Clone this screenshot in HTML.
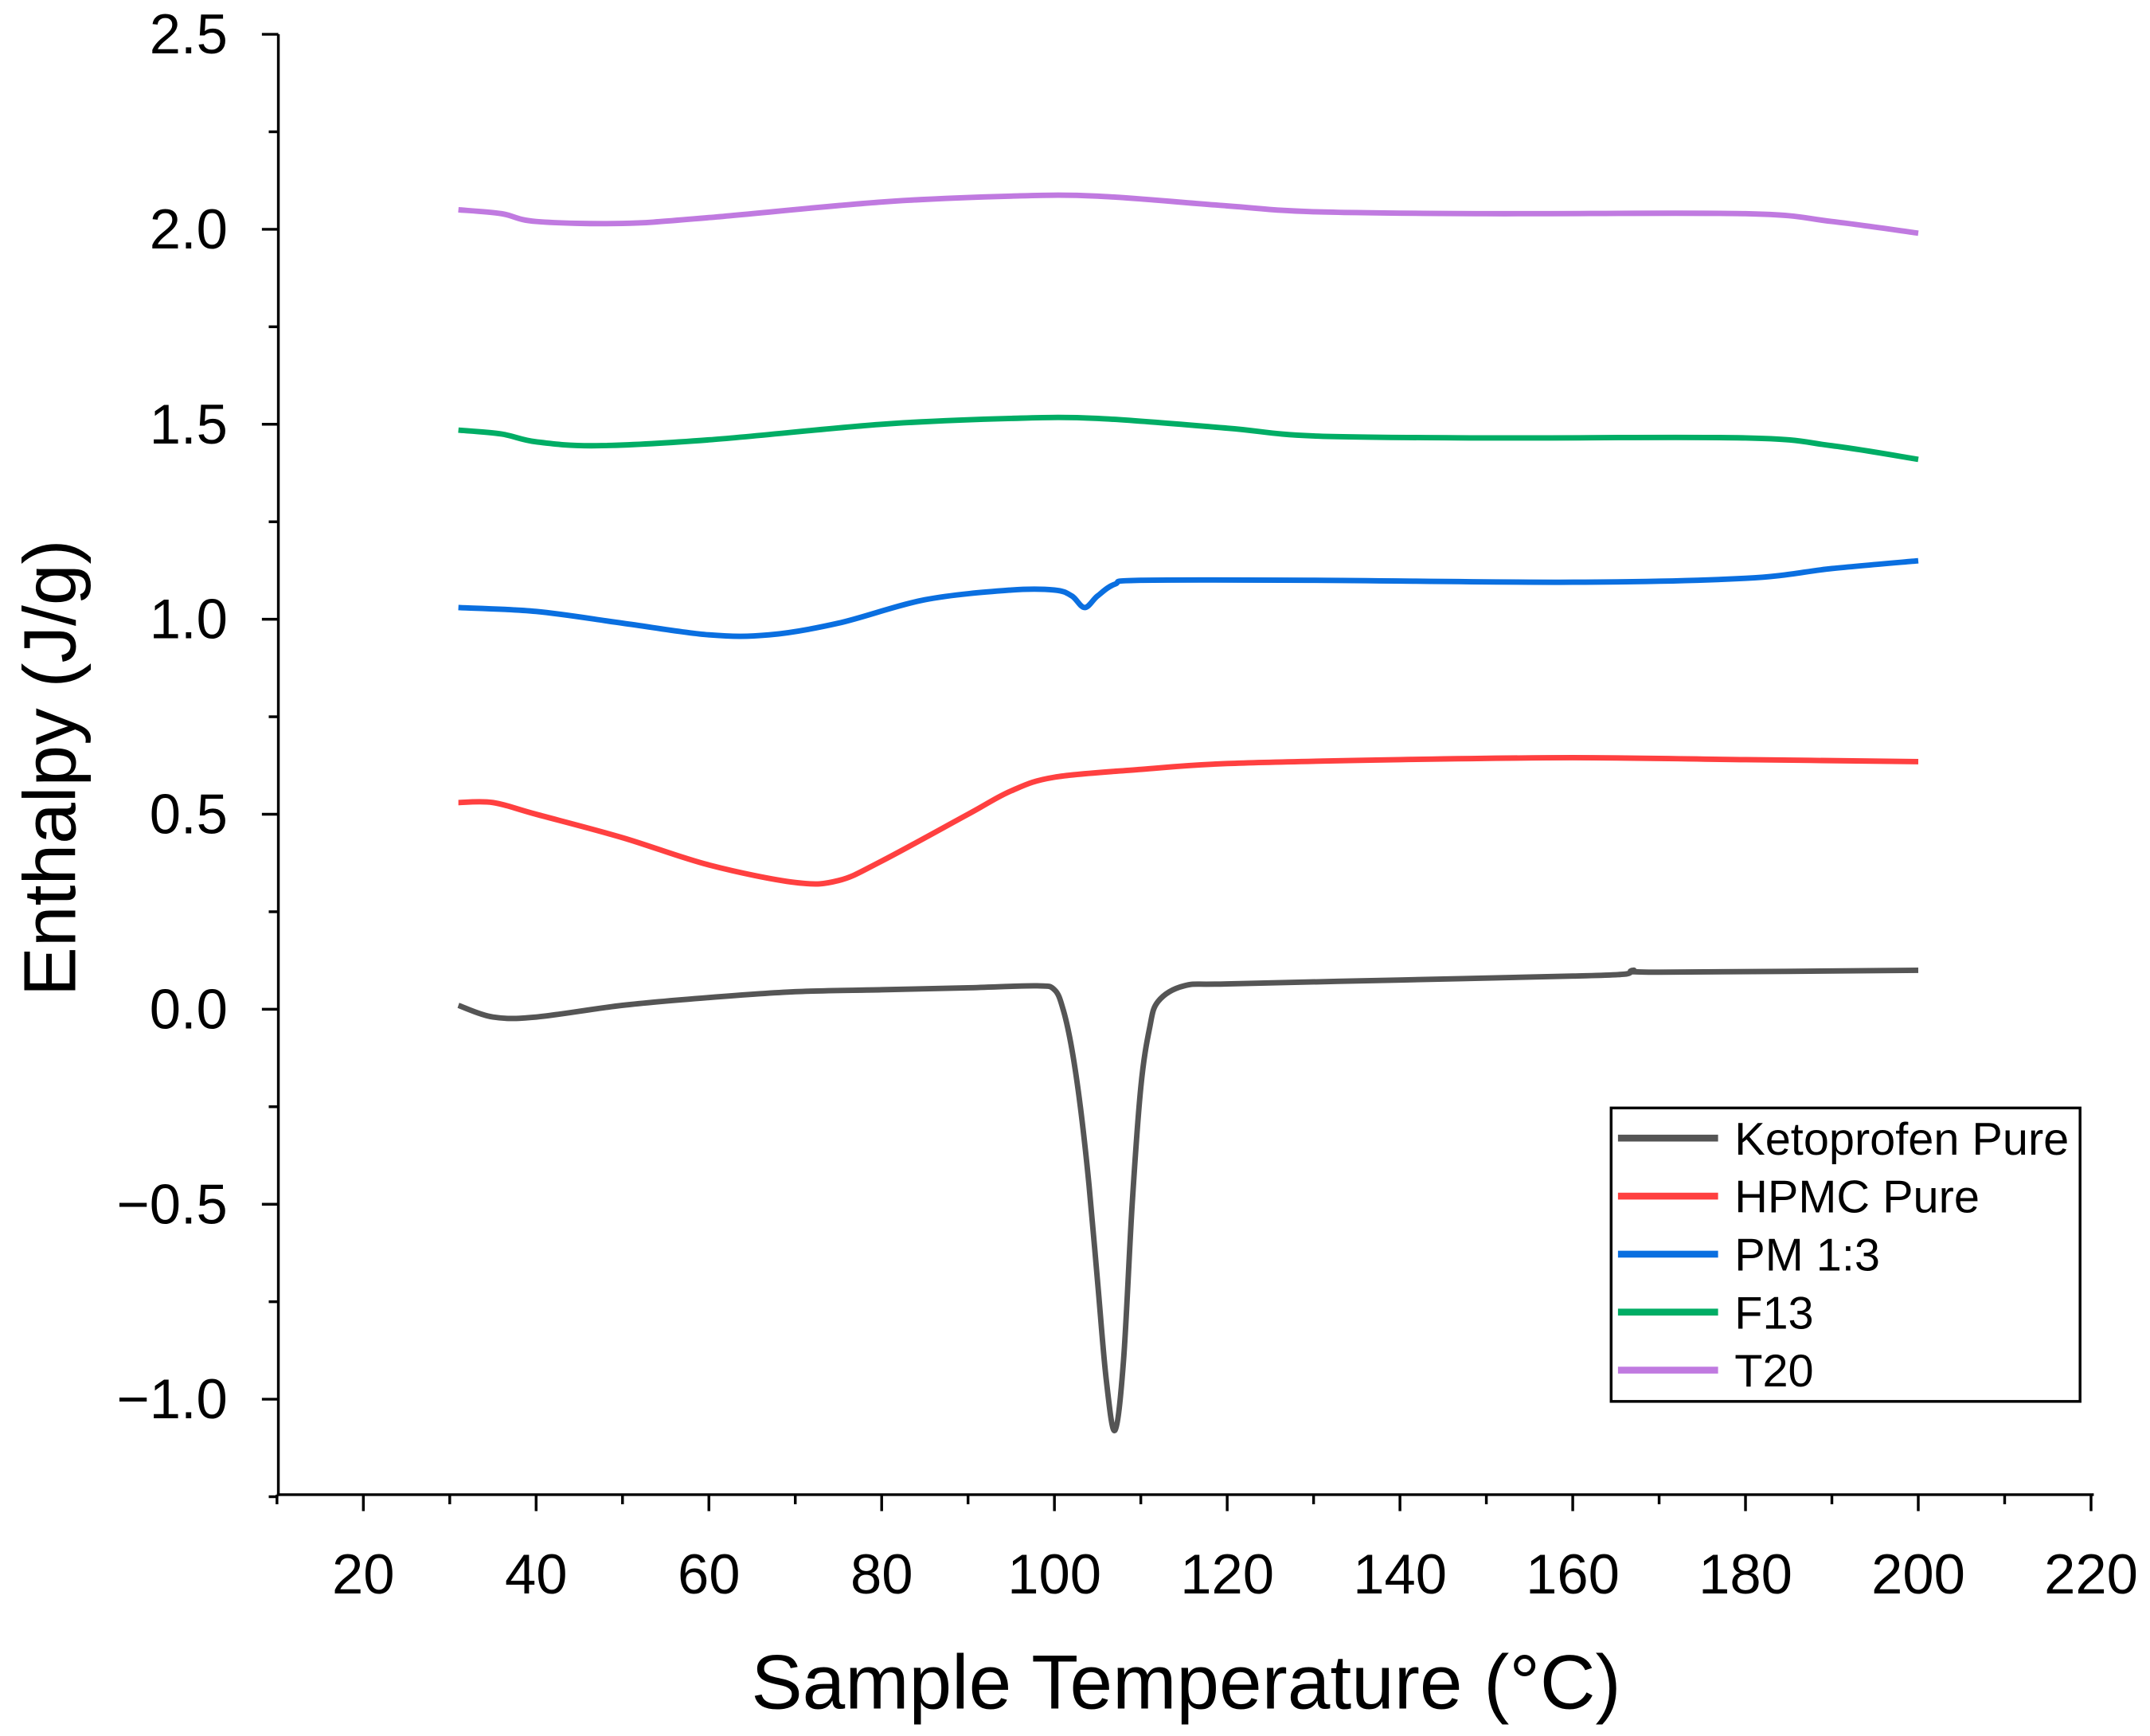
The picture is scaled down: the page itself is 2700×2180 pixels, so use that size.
<!DOCTYPE html>
<html><head><meta charset="utf-8"><style>html,body{margin:0;padding:0;background:#fff}svg{display:block}text{font-family:"Liberation Sans",Arial,sans-serif}</style></head>
<body>
<svg id="chart" width="2700" height="2180" viewBox="0 0 1568 1266" xmlns="http://www.w3.org/2000/svg"></svg>
<script>
const xTicks=[20,40,60,80,100,120,140,160,180,200,220];
const yTicks=[-1.0,-0.5,0.0,0.5,1.0,1.5,2.0,2.5];
const seriesNames=["Ketoprofen Pure","HPMC Pure","PM 1:3","F13","T20"];
const ketoX=[31,35,40,50,60,70,80,90,98,100,101,102,103,104,105,106,107,108,109,110,111,112,115,120,140,160,166,167,170,200];
const ketoY=[0.01,-0.02,-0.02,0.01,0.03,0.045,0.05,0.055,0.06,0.05,0.0,-0.1,-0.25,-0.45,-0.7,-0.95,-1.08,-0.9,-0.5,-0.2,-0.05,0.02,0.06,0.065,0.075,0.085,0.09,0.1,0.095,0.1];
const hpmcX=[31,35,40,50,60,70,75,80,90,95,100,110,120,140,160,180,200];
const hpmcY=[0.53,0.53,0.5,0.44,0.37,0.325,0.33,0.38,0.5,0.56,0.595,0.615,0.63,0.64,0.645,0.64,0.635];
const pmX=[31,40,50,60,67,75,85,95,100,102,103.5,105,107,110,130,160,180,190,200];
const pmY=[1.03,1.02,0.99,0.96,0.96,0.99,1.05,1.075,1.075,1.06,1.03,1.06,1.09,1.1,1.1,1.095,1.105,1.13,1.15];
const f13X=[31,36,40,47,60,80,95,105,120,130,150,180,190,200];
const f13Y=[1.485,1.475,1.455,1.445,1.46,1.5,1.515,1.515,1.49,1.47,1.465,1.465,1.445,1.41];
const t20X=[31,36,40,50,60,80,95,105,120,130,150,180,190,200];
const t20Y=[2.05,2.04,2.02,2.015,2.03,2.07,2.085,2.085,2.06,2.045,2.04,2.04,2.02,1.99];
const colors=["#555555","#ff4040","#0a6fe0","#00ad65","#c07ae0"];
const xs=[ketoX,hpmcX,pmX,f13X,t20X], ys=[ketoY,hpmcY,pmY,f13Y,t20Y];
const NS="http://www.w3.org/2000/svg";
const svg=document.getElementById("chart");
const X0=203, Y0=1090, YT=25;
function sx(v){return 265+(v-20)*6.3;}
function sy(v){return 736-v*284.4;}
function el(t,a,p){const e=document.createElementNS(NS,t);for(const k in a)e.setAttribute(k,a[k]);(p||svg).appendChild(e);return e;}
let a=el("line",{x1:X0,y1:YT,x2:X0,y2:Y0+1,stroke:"#000","stroke-width":2});


a=el("line",{x1:X0-1,y1:Y0,x2:1527,y2:Y0,stroke:"#000","stroke-width":2});


for(let v=10;v<=220;v+=10){const major=v%20===0;const t=el("line",{x1:sx(v),y1:Y0,x2:sx(v),y2:Y0+(major?12:7),stroke:"#000","stroke-width":2});

}
xTicks.forEach(v=>{const t=el("text",{x:sx(v),y:Y0+72,"font-size":41,"text-anchor":"middle"});t.textContent=v;

});
for(let v=-1.25;v<=2.5001;v+=0.25){const major=Math.abs(v*2-Math.round(v*2))<1e-6;const t=el("line",{x1:X0,y1:sy(v),x2:X0-(major?12:7),y2:sy(v),stroke:"#000","stroke-width":2});

}
yTicks.forEach(v=>{const t=el("text",{x:X0-37,y:sy(v)+14,"font-size":41,"text-anchor":"end"});t.textContent=(v<0?"\u2212":"")+Math.abs(v).toFixed(1);

});
let tt=el("text",{x:865,y:1246,"font-size":56,"text-anchor":"middle"});tt.textContent="Sample Temperature (°C)";


tt=el("text",{x:0,y:0,"font-size":54,"text-anchor":"middle",transform:"translate(55,560) rotate(-90)"});tt.textContent="Enthalpy (J/g)";


function smooth(px,py){let d="M"+px[0]+","+py[0];for(let i=0;i<px.length-1;i++){const x0=px[Math.max(i-1,0)],y0=py[Math.max(i-1,0)],x1=px[i],y1=py[i],x2=px[i+1],y2=py[i+1],x3=px[Math.min(i+2,px.length-1)],y3=py[Math.min(i+2,px.length-1)];d+=" C"+(x1+(x2-x0)/6)+","+(y1+(y2-y0)/6)+" "+(x2-(x3-x1)/6)+","+(y2-(y3-y1)/6)+" "+x2+","+y2;}return d;}
xs.forEach((xa,i)=>{const p=el("path",{d:smooth(xa.map(sx),ys[i].map(sy)),fill:"none",stroke:colors[i],"stroke-width":4,"stroke-linejoin":"round"});

});
const lg=el("rect",{x:1175,y:808,width:342,height:214,fill:"#fff",stroke:"#000","stroke-width":2});


seriesNames.forEach((n,i)=>{const yy=830+i*42.3;
const l=el("line",{x1:1180,y1:yy,x2:1253,y2:yy,stroke:colors[i],"stroke-width":5});


const t=el("text",{x:1265,y:yy+12,"font-size":33.5});t.textContent=n;

});
</script>
</body></html>
